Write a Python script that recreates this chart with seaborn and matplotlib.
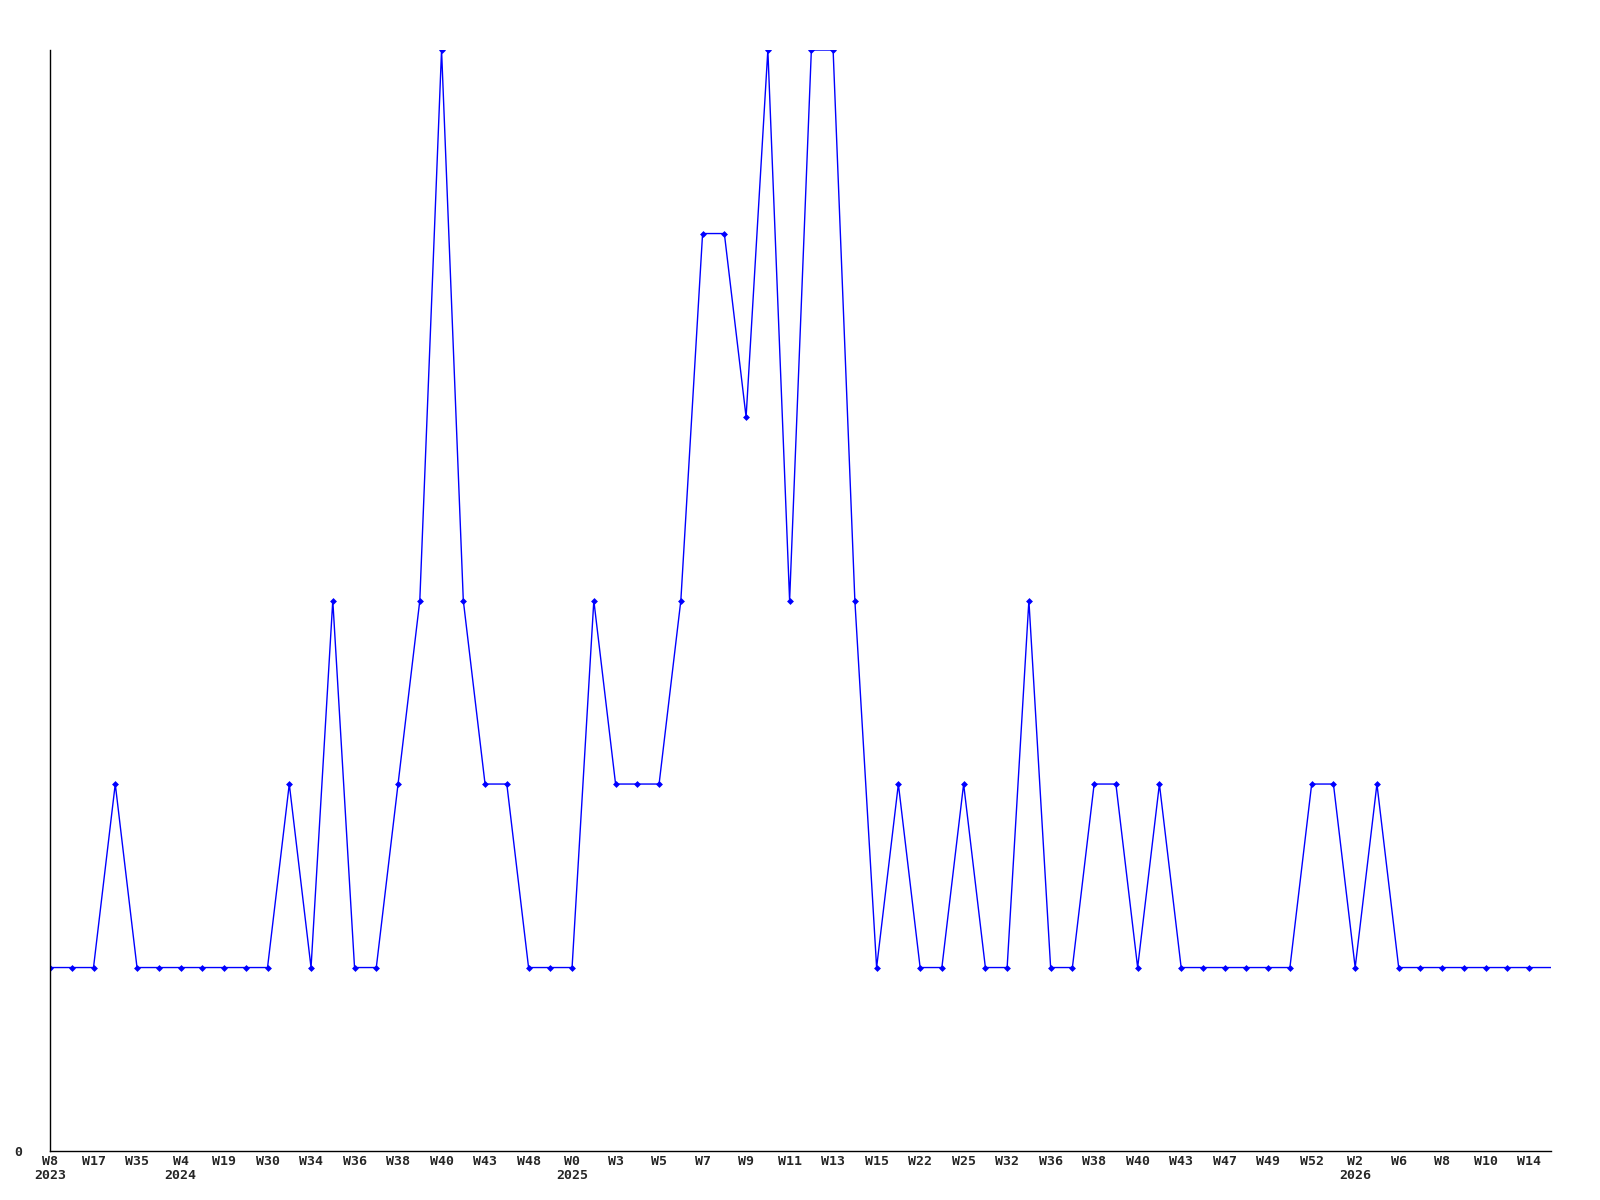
import matplotlib
matplotlib.use("Agg")
import matplotlib.pyplot as plt
import seaborn as sns
import numpy as np
import pandas as pd

values = [1, 1, 1, 2, 1, 1, 1, 1, 1, 1,
          1, 2, 1, 3, 1, 1, 2, 3, 6, 3,
          2, 2, 1, 1, 1, 3, 2, 2, 2, 3,
          5, 5, 4, 6, 3, 6, 6, 3, 1, 2,
          1, 1, 2, 1, 1, 3, 1, 1, 2, 2,
          1, 2, 1, 1, 1, 1, 1, 1, 2, 2,
          1, 2, 1, 1, 1, 1, 1, 1, 1, 1]
week_labels = ["W8", "W17", "W35", "W4", "W19", "W30", "W34", "W36", "W38", "W40",
               "W43", "W48", "W0", "W3", "W5", "W7", "W9", "W11", "W13", "W15",
               "W22", "W25", "W32", "W36", "W38", "W40", "W43", "W47", "W49", "W52",
               "W2", "W6", "W8", "W10", "W14"]
year_labels = {0: "2023", 3: "2024", 12: "2025", 30: "2026"}

df = pd.DataFrame({"idx": np.arange(len(values)), "value": values})

sns.set_style("white")
plt.rcParams['font.family'] = ['DejaVu Sans Mono', 'DejaVu Sans']

fig = plt.figure(figsize=(16, 12), dpi=100)
ax = fig.add_axes([0.03125, 0.0408, 0.9381, 0.9175])

sns.lineplot(data=df, x="idx", y="value", ax=ax, color="#0000ff", linewidth=1.0,
             marker="D", markersize=3.5, markeredgewidth=0,
             markevery=list(range(len(values) - 1)), clip_on=True)

ax.set_xlim(0, len(values) - 1)
ax.set_ylim(0, 6)

tick_pos = list(range(0, 2 * len(week_labels), 2))
labels = []
for i, w in enumerate(week_labels):
    if i in year_labels:
        labels.append(w + "\n" + year_labels[i])
    else:
        labels.append(w)
ax.set_xticks(tick_pos)
ax.set_xticklabels(labels, fontsize=9.5, fontweight="bold", linespacing=1.05)
ax.set_yticks([0])
ax.set_yticklabels(["0"], fontsize=9.5, fontweight="bold")
ax.tick_params(axis="x", length=0, pad=3)
ax.tick_params(axis="y", length=0, pad=20)

ax.set_xlabel("")
ax.set_ylabel("")
for side in ["top", "right"]:
    ax.spines[side].set_visible(False)
for side in ["left", "bottom"]:
    ax.spines[side].set_color("black")
    ax.spines[side].set_linewidth(1.0)

fig.savefig("out.png", dpi=100, facecolor="white")
